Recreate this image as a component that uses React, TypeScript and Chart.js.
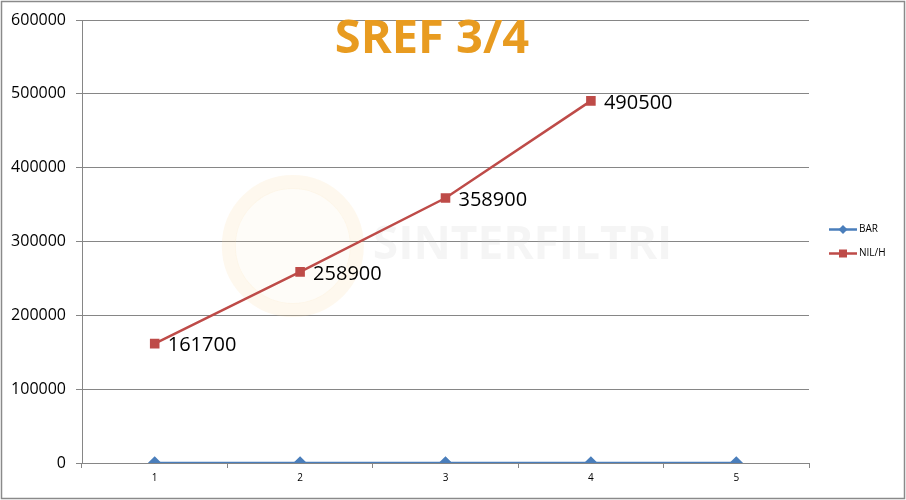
import React, { useEffect, useRef } from "react";
import { Chart, registerables } from "chart.js";

Chart.register(...registerables);

const categories = ["1", "2", "3", "4", "5"];
const barValues = [0, 0, 0, 0, 0];
const nilValues: (number | null)[] = [161700, 258900, 358900, 490500, null];
const yTicks = [0, 100000, 200000, 300000, 400000, 500000, 600000];
const seriesNames = ["BAR", "NIL/H"];
const titleText = "SREF 3/4";
const watermarkText = "SINTERFILTRI";

const BLUE = "#4A7EBB";
const RED = "#BE4B48";
const GRID = "#868686";

const decorPlugin = {
  id: "decor",
  beforeDatasetsDraw(chart: any) {
    const { ctx, chartArea } = chart;
    ctx.save();
    // faint watermark
    const cx = chartArea.left + (chartArea.right - chartArea.left) * 0.29;
    const cy = chartArea.top + (chartArea.bottom - chartArea.top) * 0.51;
    ctx.strokeStyle = "rgba(250,215,160,0.18)";
    ctx.lineWidth = 14;
    ctx.beginPath();
    ctx.arc(cx, cy, 64, 0, Math.PI * 2);
    ctx.stroke();
    ctx.fillStyle = "rgba(250,225,190,0.10)";
    ctx.beginPath();
    ctx.arc(cx, cy, 58, 0, Math.PI * 2);
    ctx.fill();
    ctx.font = "bold 46px 'Open Sans'";
    ctx.fillStyle = "rgba(200,200,200,0.18)";
    ctx.textBaseline = "middle";
    ctx.textAlign = "left";
    ctx.fillText(watermarkText, cx + 80, cy);
    ctx.restore();
  },
  afterDraw(chart: any) {
    const { ctx, chartArea, width, height } = chart;
    ctx.save();
    // border
    ctx.strokeStyle = "#8a8a8a";
    ctx.lineWidth = 1.5;
    ctx.strokeRect(1.5, 1.5, width - 3, height - 3);

    // title
    ctx.font = "bold 47px 'Open Sans'";
    ctx.fillStyle = "#E89B20";
    ctx.textAlign = "center";
    ctx.textBaseline = "middle";
    ctx.fillText(titleText, chartArea.left + 350, chartArea.top + 20);

    // data labels for NIL/H
    const meta = chart.getDatasetMeta(1);
    ctx.font = "20px 'Open Sans'";
    ctx.fillStyle = "#000";
    ctx.textAlign = "left";
    ctx.textBaseline = "middle";
    meta.data.forEach((pt: any, i: number) => {
      const v = nilValues[i];
      if (v == null) return;
      ctx.fillText(String(v), pt.x + 13, pt.y + 2);
    });

    // legend
    const lx = chartArea.right + 20;
    const ly0 = (chartArea.top + chartArea.bottom) / 2;
    const items = [
      { name: seriesNames[0], color: BLUE, shape: "diamond" },
      { name: seriesNames[1], color: RED, shape: "square" },
    ];
    items.forEach((it, i) => {
      const y = ly0 + (i === 0 ? -12 : 12) + 0;
      ctx.strokeStyle = it.color;
      ctx.lineWidth = 2.5;
      ctx.beginPath();
      ctx.moveTo(lx, y);
      ctx.lineTo(lx + 28, y);
      ctx.stroke();
      ctx.fillStyle = it.color;
      const mx = lx + 14;
      if (it.shape === "diamond") {
        ctx.beginPath();
        ctx.moveTo(mx, y - 4.5);
        ctx.lineTo(mx + 4.5, y);
        ctx.lineTo(mx, y + 4.5);
        ctx.lineTo(mx - 4.5, y);
        ctx.closePath();
        ctx.fill();
      } else {
        ctx.fillRect(mx - 4, y - 4, 8, 8);
      }
      ctx.fillStyle = "#000";
      ctx.font = "10px 'Open Sans'";
      ctx.textAlign = "left";
      ctx.textBaseline = "middle";
      ctx.fillText(it.name, lx + 30, y);
    });
    ctx.restore();
  },
};

export default function App() {
  const ref = useRef<HTMLCanvasElement>(null);
  useEffect(() => {
    document.body.style.margin = "0";
    const chart = new Chart(ref.current as HTMLCanvasElement, {
      type: "line",
      data: {
        labels: categories,
        datasets: [
          {
            label: seriesNames[0],
            data: barValues,
            borderColor: BLUE,
            backgroundColor: BLUE,
            borderWidth: 2.5,
            pointStyle: "rectRot",
            pointRadius: 5,
            pointHoverRadius: 5,
            tension: 0,
          },
          {
            label: seriesNames[1],
            data: nilValues,
            borderColor: RED,
            backgroundColor: RED,
            borderWidth: 2.5,
            pointStyle: "rect",
            pointRadius: 5,
            pointHoverRadius: 5,
            tension: 0,
          },
        ],
      },
      options: {
        animation: false,
        responsive: false,
        layout: { padding: { top: 20, right: 97, left: 0, bottom: 0 } },
        plugins: { legend: { display: false }, tooltip: { enabled: false }, title: { display: false } },
        scales: {
          x: {
            offset: true,
            grid: {
              display: true,
              offset: true,
              drawOnChartArea: false,
              drawTicks: true,
              tickLength: 5,
              color: GRID,
            },
            border: { display: true, color: GRID, width: 1 },
            ticks: { color: "#000", font: { family: "'Open Sans'", size: 10 }, padding: 4 },
            afterFit: (s: any) => { s.height = 37; },
          },
          y: {
            min: 0,
            max: 600000,
            afterBuildTicks: (s: any) => { s.ticks = yTicks.map((v) => ({ value: v })); },
            grid: { color: GRID, tickLength: 6, drawTicks: true },
            border: { display: true, color: GRID, width: 1 },
            ticks: {
              color: "#000",
              font: { family: "'Open Sans'", size: 16 },
              padding: 10,
              callback: (v: any) => String(v),
            },
            afterFit: (s: any) => { s.width = 82; },
          },
        },
      },
      plugins: [decorPlugin],
    });
    return () => chart.destroy();
  }, []);
  return <canvas ref={ref} width={906} height={500} style={{ display: "block" }} />;
}
